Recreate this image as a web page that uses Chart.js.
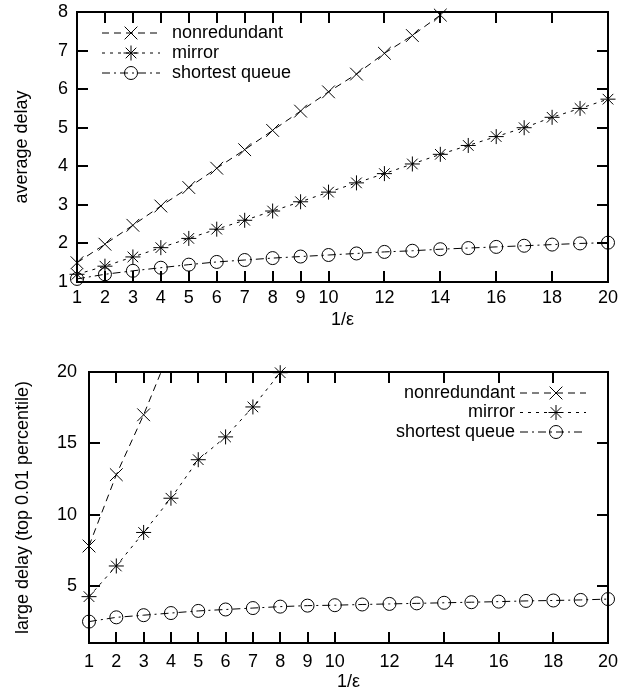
<!DOCTYPE html>
<html>
<head>
<meta charset="utf-8">
<script src="https://cdn.jsdelivr.net/npm/chart.js@4/dist/chart.umd.min.js"></script>
<style>
  html, body { margin: 0; padding: 0; background: #fff; }
  #wrap { position: relative; width: 620px; height: 693px; }
  canvas { position: absolute; left: 0; }
</style>
</head>
<body>
<div id="wrap">
  <canvas id="c1" width="620" height="340" style="top:0px"></canvas>
  <canvas id="c2" width="620" height="353" style="top:340px"></canvas>
</div>
<script>
// ---------- data ----------
const xValues = [1,2,3,4,5,6,7,8,9,10,11,12,13,14,15,16,17,18,19,20];
const xTickValues = [1,2,3,4,5,6,7,8,9,10,12,14,16,18,20];
const seriesLabels = ['nonredundant', 'mirror', 'shortest queue'];

// top chart: average delay
const avgYTicks = [1,2,3,4,5,6,7,8];
const avgNonredundant = [1.50,1.98,2.47,2.97,3.45,3.95,4.43,4.93,5.43,5.93,6.39,6.93,7.39,7.92];
const avgMirror = [1.20,1.41,1.65,1.89,2.13,2.37,2.60,2.84,3.08,3.33,3.57,3.81,4.06,4.31,4.54,4.77,5.00,5.27,5.50,5.74];
const avgShortest = [1.08,1.20,1.29,1.37,1.45,1.52,1.57,1.62,1.66,1.70,1.74,1.78,1.81,1.85,1.88,1.91,1.94,1.97,2.00,2.02];

// bottom chart: large delay (top 0.01 percentile)
const largeYTicks = [5,10,15,20];
const largeNonredundant = [7.8,12.8,17.0,21.7];
const largeMirror = [4.25,6.4,8.75,11.15,13.85,15.45,17.55,19.95];
const largeShortest = [2.5,2.8,2.95,3.1,3.25,3.35,3.45,3.55,3.62,3.65,3.70,3.74,3.78,3.82,3.86,3.90,3.95,3.98,4.02,4.08];

// ---------- helpers ----------
const FONT = '"Liberation Sans", Arial, Helvetica, sans-serif';
Chart.defaults.font.family = FONT;
Chart.defaults.font.size = 18;
Chart.defaults.color = '#000';

function pts(ys) { return ys.map((y, i) => ({ x: xValues[i], y: y })); }

const styles = [
  { pointStyle: 'crossRot', pointRadius: 9, borderDash: [7, 5] },
  { pointStyle: 'star', pointRadius: 7.5, borderDash: [3, 5] },
  { pointStyle: 'circle', pointRadius: 6.5, borderDash: [8, 4, 2, 4] }
];

function makeDataset(i, ys, clip) {
  const s = styles[i];
  return {
    label: seriesLabels[i],
    data: pts(ys),
    borderColor: '#000',
    backgroundColor: 'rgba(0,0,0,0)',
    borderWidth: 1,
    borderDash: s.borderDash,
    pointStyle: s.pointStyle,
    pointRadius: s.pointRadius,
    pointBorderWidth: 1,
    pointBorderColor: '#000',
    pointBackgroundColor: 'rgba(0,0,0,0)',
    tension: 0,
    fill: false,
    clip: clip
  };
}

function drawMarker(ctx, style, r, x, y) {
  ctx.beginPath();
  if (style === 'circle') {
    ctx.arc(x, y, r, 0, Math.PI * 2);
  } else {
    const d = r * Math.SQRT1_2;
    ctx.moveTo(x - d, y - d); ctx.lineTo(x + d, y + d);
    ctx.moveTo(x - d, y + d); ctx.lineTo(x + d, y - d);
    if (style === 'star') {
      ctx.moveTo(x - r, y); ctx.lineTo(x + r, y);
      ctx.moveTo(x, y - r); ctx.lineTo(x, y + r);
    }
  }
  ctx.stroke();
}

function noPad(s) { s.paddingTop = 0; s.paddingBottom = 0; s.paddingLeft = 0; s.paddingRight = 0; }

const framePlugin = {
  id: 'frame',
  afterDraw(chart) {
    const opts = chart.options.plugins.frame;
    const ctx = chart.ctx;
    const a = chart.chartArea;
    const xs = chart.scales.x, ys = chart.scales.y;
    const T = 11;
    ctx.save();
    ctx.fillStyle = '#000';
    for (let k = 0; k < xTickValues.length; k++) {
      const p = Math.round(xs.getPixelForValue(xTickValues[k]));
      ctx.fillRect(p - 1, a.bottom - T, 2, T);
      ctx.fillRect(p - 1, a.top, 2, T);
    }
    const yt = opts.yTicks;
    for (let k = 0; k < yt.length; k++) {
      const p = Math.round(ys.getPixelForValue(yt[k]));
      ctx.fillRect(a.left, p - 1, T, 2);
      ctx.fillRect(a.right - T, p - 1, T, 2);
    }
    ctx.strokeStyle = '#000';
    ctx.setLineDash([]);
    ctx.lineWidth = 2;
    ctx.strokeRect(a.left, a.top, a.right - a.left, a.bottom - a.top);

    // legend
    const L = opts.legend;
    ctx.font = '18px ' + FONT;
    ctx.fillStyle = '#000';
    ctx.textBaseline = 'middle';
    chart.data.datasets.forEach((ds, i) => {
      const y = L.y0 + L.dy * i;
      ctx.textAlign = L.textAlign;
      ctx.fillText(ds.label, L.textX, y);
      ctx.lineWidth = 1;
      ctx.setLineDash(ds.borderDash);
      ctx.beginPath();
      ctx.moveTo(L.lineX0, y); ctx.lineTo(L.lineX1, y);
      ctx.stroke();
      ctx.setLineDash([]);
      drawMarker(ctx, ds.pointStyle, ds.pointRadius, L.markX, y);
    });
    ctx.restore();
  }
};

function makeChart(id, cfg) {
  return new Chart(document.getElementById(id), {
    type: 'line',
    data: { datasets: cfg.datasets },
    options: {
      responsive: false,
      animation: false,
      events: [],
      layout: { padding: { left: 0, right: 12, top: cfg.top, bottom: 0 } },
      plugins: {
        legend: { display: false },
        tooltip: { enabled: false },
        frame: { yTicks: cfg.yTicks, legend: cfg.legend }
      },
      scales: {
        x: {
          type: 'linear', min: 1, max: 20, position: 'bottom',
          grid: { display: false, drawTicks: false },
          border: { display: false },
          ticks: { padding: cfg.xPad, color: '#000', font: { size: 18 }, maxRotation: 0 },
          afterBuildTicks: s => { s.ticks = xTickValues.map(v => ({ value: v })); },
          afterFit: s => { s.height = cfg.xHeight; noPad(s); },
          title: { display: true, text: '1/ε', color: '#000', font: { size: 18 }, padding: { top: 0, bottom: cfg.xTitlePad } }
        },
        y: {
          type: 'linear', min: cfg.yMin, max: cfg.yMax, position: 'left',
          grid: { display: false, drawTicks: false },
          border: { display: false },
          ticks: { padding: cfg.yPad, color: '#000', font: { size: 18 } },
          afterBuildTicks: s => { s.ticks = cfg.yTicks.map(v => ({ value: v })); },
          afterFit: s => { s.width = cfg.yWidth; noPad(s); },
          title: { display: true, text: cfg.yTitle, color: '#000', font: { size: 18 }, padding: { top: cfg.yTitlePad, bottom: 0 } }
        }
      }
    },
    plugins: [framePlugin]
  });
}

makeChart('c1', {
  datasets: [
    makeDataset(0, avgNonredundant, false),
    makeDataset(1, avgMirror, false),
    makeDataset(2, avgShortest, false)
  ],
  yMin: 1, yMax: 8, yTicks: avgYTicks,
  top: 12, xHeight: 58, yWidth: 77,
  xPad: 5, yPad: 9, xTitlePad: 9, yTitlePad: 11,
  yTitle: 'average delay',
  legend: { y0: 33, dy: 20, textAlign: 'left', textX: 172, lineX0: 102, lineX1: 160, markX: 131 }
});

makeChart('c2', {
  datasets: [
    makeDataset(0, largeNonredundant, { left: false, right: false, bottom: false, top: 0 }),
    makeDataset(1, largeMirror, false),
    makeDataset(2, largeShortest, false)
  ],
  yMin: 1, yMax: 20, yTicks: largeYTicks,
  top: 32, xHeight: 50, yWidth: 89,
  xPad: 8, yPad: 12, xTitlePad: 0, yTitlePad: 12,
  yTitle: 'large delay (top 0.01 percentile)',
  legend: { y0: 53, dy: 19.5, textAlign: 'right', textX: 515, lineX0: 520, lineX1: 586, markX: 556 }
});
</script>
</body>
</html>
